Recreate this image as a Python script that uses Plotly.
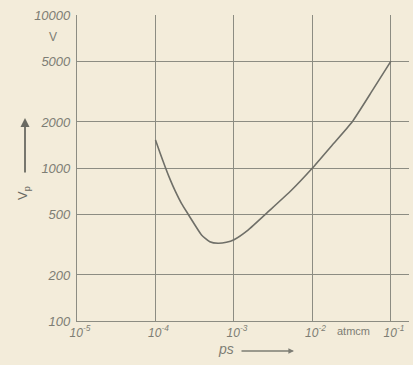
import plotly.graph_objects as go

# Paschen curve data
ps_values = [1.0e-4, 1.15e-4, 1.33e-4, 1.535e-4, 1.775e-4, 2.15e-4, 2.62e-4, 3.18e-4,
             3.86e-4, 4.92e-4, 6.27e-4, 8.0e-4, 1.0e-3, 1.51e-3, 2.73e-3, 5.43e-3,
             1.0e-2, 1.78e-2, 3.2e-2, 5.89e-2, 1.0e-1]
vp_values = [1524, 1245, 1015, 842, 711, 585, 497, 424,
             365, 330, 322, 327, 340, 393, 518, 718,
             1000, 1410, 2000, 3250, 5000]

y_ticks = [100, 200, 500, 1000, 2000, 5000, 10000]
y_ticktext = ["100", "200", "500", "1000", "2000", "5000", "10000"]
x_ticks = [1e-5, 1e-4, 1e-3, 1e-2, 1e-1]
x_ticktext = ["10<sup>-5</sup>", "10<sup>-4</sup>", "10<sup>-3</sup>",
              "10<sup>-2</sup>", "10<sup>-1</sup>"]

bg = "#f3ecda"
ink = "#7d7d74"
grid = "#8c8c82"
font_family = "Liberation Sans"

fig = go.Figure()
fig.add_trace(go.Scatter(
    x=ps_values, y=vp_values, mode="lines",
    line=dict(color="#6f6f68", width=1.6, shape="spline", smoothing=0.5),
    hoverinfo="skip", showlegend=False,
))

W, H = 413, 365
L, R, T, B = 77, 4, 15, 44

fig.update_layout(
    width=W, height=H,
    margin=dict(l=L, r=R, t=T, b=B),
    paper_bgcolor=bg, plot_bgcolor=bg,
    font=dict(family=font_family, size=12, color=ink, style="italic"),
    showlegend=False,
)
fig.update_xaxes(
    type="log", range=[-5, -0.77],
    tickvals=x_ticks, ticktext=x_ticktext,
    showgrid=True, gridcolor=grid, gridwidth=1,
    showline=True, linecolor=grid, linewidth=1.2,
    ticks="", zeroline=False,
    tickfont=dict(family=font_family, size=12, color=ink, style="italic"),
    ticklabelshift=3, ticklabelstandoff=0,
)
fig.update_yaxes(
    type="log", range=[2, 4],
    tickvals=y_ticks, ticktext=y_ticktext,
    showgrid=True, gridcolor=grid, gridwidth=1,
    showline=True, linecolor=grid, linewidth=1.2,
    ticks="", zeroline=False,
    tickfont=dict(family=font_family, size=13, color=ink, style="italic"),
    ticklabelstandoff=3,
)

def px_to_paper(px, py):
    return (px - L) / (W - L - R), (H - B - py) / (H - T - B)

annos = []
# unit V under 10000
xv, yv = px_to_paper(53, 37)
annos.append(dict(x=xv, y=yv, xref="paper", yref="paper", text="V", showarrow=False,
                  xanchor="center", yanchor="middle",
                  font=dict(size=12, color=ink, style="normal")))
# atmcm next to 10^-2
xa, ya = px_to_paper(353, 331)
annos.append(dict(x=xa, y=ya, xref="paper", yref="paper", text="atmcm", showarrow=False,
                  xanchor="center", yanchor="middle",
                  font=dict(size=11, color=ink, style="normal")))
# y-axis title V_p with upward arrow
xt, yt = px_to_paper(24, 193)
annos.append(dict(x=xt, y=yt, xref="paper", yref="paper", text="V<sub>p</sub>",
                  textangle=-90, showarrow=False, xanchor="center", yanchor="middle",
                  font=dict(size=13, color="#6a6a62", style="normal")))
xh, yh = px_to_paper(25, 118)
annos.append(dict(x=xh, y=yh, xref="paper", yref="paper", text="", showarrow=True,
                  ax=0, ay=56, arrowhead=2, arrowsize=1, arrowwidth=1.8,
                  arrowcolor="#6a6a62"))
# x-axis title ps with right arrow
xp, yp = px_to_paper(226, 349)
annos.append(dict(x=xp, y=yp, xref="paper", yref="paper", text="ps", showarrow=False,
                  xanchor="center", yanchor="middle",
                  font=dict(size=14, color=ink, style="italic")))
xh2, yh2 = px_to_paper(294, 351)
annos.append(dict(x=xh2, y=yh2, xref="paper", yref="paper", text="", showarrow=True,
                  ax=-54, ay=0, arrowhead=2, arrowsize=0.8, arrowwidth=1.4,
                  arrowcolor=ink))
fig.update_layout(annotations=annos)

fig.write_html("out.html")
